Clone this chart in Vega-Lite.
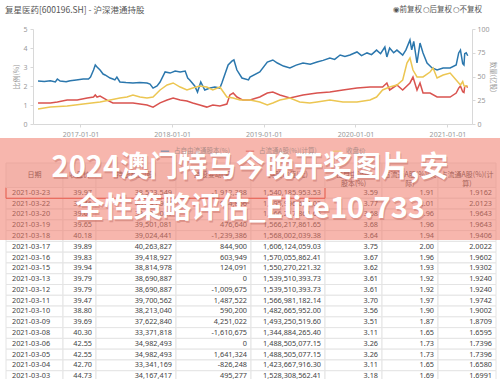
{
"$schema": "https://vega.github.io/schema/vega-lite/v6.json",
"width": 500, "height": 379, "autosize": "none", "padding": 0,
"background": "white",
"config": {"view": {"stroke": null}, "font": "Noto Sans CJK SC",
  "axis": {"grid": false, "labelColor": "#999", "labelFontSize": 7, "domainColor": "#d8d8d8", "tickColor": "#d8d8d8", "tickSize": 3, "titleColor": "#999", "titleFontSize": 7, "titleFontWeight": "normal", "labelFont": "Noto Sans", "titleFont": "Noto Sans CJK SC"}},
"datasets": {
 "lines": [
  {"d":"2016-07-16","s":"占自由流通股本(%)","v":2.26},{"d":"2016-08-10","s":"占自由流通股本(%)","v":2.24},{"d":"2016-09-03","s":"占自由流通股本(%)","v":2.28},{"d":"2016-09-23","s":"占自由流通股本(%)","v":2.21},{"d":"2016-10-01","s":"占自由流通股本(%)","v":2.37},{"d":"2016-10-12","s":"占自由流通股本(%)","v":2.26},{"d":"2016-11-05","s":"占自由流通股本(%)","v":2.22},{"d":"2016-11-21","s":"占自由流通股本(%)","v":2.28},{"d":"2016-12-15","s":"占自由流通股本(%)","v":2.32},{"d":"2017-01-12","s":"占自由流通股本(%)","v":2.37},{"d":"2017-02-02","s":"占自由流通股本(%)","v":2.37},{"d":"2017-02-10","s":"占自由流通股本(%)","v":2.47},{"d":"2017-02-22","s":"占自由流通股本(%)","v":2.84},{"d":"2017-03-01","s":"占自由流通股本(%)","v":3.11},{"d":"2017-03-08","s":"占自由流通股本(%)","v":3.0},{"d":"2017-03-20","s":"占自由流通股本(%)","v":2.84},{"d":"2017-04-01","s":"占自由流通股本(%)","v":2.63},{"d":"2017-04-09","s":"占自由流通股本(%)","v":2.58},{"d":"2017-04-29","s":"占自由流通股本(%)","v":2.42},{"d":"2017-05-10","s":"占自由流通股本(%)","v":2.37},{"d":"2017-05-18","s":"占自由流通股本(%)","v":2.32},{"d":"2017-05-26","s":"占自由流通股本(%)","v":2.47},{"d":"2017-06-07","s":"占自由流通股本(%)","v":2.21},{"d":"2017-07-01","s":"占自由流通股本(%)","v":2.18},{"d":"2017-07-29","s":"占自由流通股本(%)","v":2.16},{"d":"2017-08-25","s":"占自由流通股本(%)","v":2.18},{"d":"2017-09-23","s":"占自由流通股本(%)","v":2.16},{"d":"2017-10-05","s":"占自由流通股本(%)","v":2.1},{"d":"2017-10-17","s":"占自由流通股本(%)","v":1.89},{"d":"2017-11-02","s":"占自由流通股本(%)","v":2.0},{"d":"2017-11-14","s":"占自由流通股本(%)","v":2.21},{"d":"2017-12-04","s":"占自由流通股本(%)","v":2.74},{"d":"2017-12-24","s":"占自由流通股本(%)","v":2.68},{"d":"2018-01-13","s":"占自由流通股本(%)","v":2.79},{"d":"2018-02-02","s":"占自由流通股本(%)","v":2.74},{"d":"2018-02-22","s":"占自由流通股本(%)","v":2.79},{"d":"2018-03-04","s":"占自由流通股本(%)","v":2.42},{"d":"2018-03-12","s":"占自由流通股本(%)","v":2.32},{"d":"2018-04-01","s":"占自由流通股本(%)","v":2.0},{"d":"2018-04-12","s":"占自由流通股本(%)","v":1.68},{"d":"2018-04-25","s":"占自由流通股本(%)","v":2.21},{"d":"2018-05-11","s":"占自由流通股本(%)","v":1.79},{"d":"2018-06-01","s":"占自由流通股本(%)","v":1.89},{"d":"2018-06-20","s":"占自由流通股本(%)","v":1.95},{"d":"2018-07-10","s":"占自由流通股本(%)","v":1.89},{"d":"2018-07-18","s":"占自由流通股本(%)","v":2.16},{"d":"2018-08-12","s":"占自由流通股本(%)","v":3.11},{"d":"2018-08-28","s":"占自由流通股本(%)","v":3.32},{"d":"2018-09-04","s":"占自由流通股本(%)","v":3.37},{"d":"2018-09-16","s":"占自由流通股本(%)","v":2.84},{"d":"2018-10-06","s":"占自由流通股本(%)","v":2.42},{"d":"2018-11-01","s":"占自由流通股本(%)","v":2.32},{"d":"2018-11-07","s":"占自由流通股本(%)","v":2.47},{"d":"2018-12-16","s":"占自由流通股本(%)","v":2.74},{"d":"2019-01-15","s":"占自由流通股本(%)","v":3.26},{"d":"2019-02-06","s":"占自由流通股本(%)","v":3.37},{"d":"2019-02-24","s":"占自由流通股本(%)","v":3.21},{"d":"2019-03-20","s":"占自由流通股本(%)","v":3.05},{"d":"2019-04-15","s":"占自由流通股本(%)","v":2.95},{"d":"2019-05-10","s":"占自由流通股本(%)","v":3.1},{"d":"2019-06-06","s":"占自由流通股本(%)","v":3.21},{"d":"2019-07-05","s":"占自由流通股本(%)","v":3.15},{"d":"2019-08-01","s":"占自由流通股本(%)","v":3.26},{"d":"2019-08-25","s":"占自由流通股本(%)","v":3.35},{"d":"2019-09-21","s":"占自由流通股本(%)","v":3.47},{"d":"2019-10-10","s":"占自由流通股本(%)","v":3.4},{"d":"2019-11-01","s":"占自由流通股本(%)","v":3.63},{"d":"2019-11-20","s":"占自由流通股本(%)","v":3.55},{"d":"2019-12-10","s":"占自由流通股本(%)","v":3.63},{"d":"2020-01-07","s":"占自由流通股本(%)","v":3.79},{"d":"2020-01-25","s":"占自由流通股本(%)","v":3.6},{"d":"2020-02-16","s":"占自由流通股本(%)","v":3.74},{"d":"2020-03-05","s":"占自由流通股本(%)","v":3.65},{"d":"2020-03-25","s":"占自由流通股本(%)","v":3.89},{"d":"2020-04-10","s":"占自由流通股本(%)","v":3.7},{"d":"2020-04-27","s":"占自由流通股本(%)","v":4.05},{"d":"2020-05-05","s":"占自由流通股本(%)","v":3.53},{"d":"2020-05-16","s":"占自由流通股本(%)","v":4.0},{"d":"2020-06-01","s":"占自由流通股本(%)","v":3.75},{"d":"2020-06-14","s":"占自由流通股本(%)","v":3.89},{"d":"2020-07-07","s":"占自由流通股本(%)","v":3.63},{"d":"2020-07-20","s":"占自由流通股本(%)","v":3.9},{"d":"2020-08-05","s":"占自由流通股本(%)","v":4.42},{"d":"2020-08-12","s":"占自由流通股本(%)","v":3.9},{"d":"2020-08-20","s":"占自由流通股本(%)","v":4.35},{"d":"2020-09-02","s":"占自由流通股本(%)","v":3.21},{"d":"2020-09-14","s":"占自由流通股本(%)","v":4.26},{"d":"2020-09-26","s":"占自由流通股本(%)","v":3.74},{"d":"2020-10-12","s":"占自由流通股本(%)","v":3.21},{"d":"2020-11-01","s":"占自由流通股本(%)","v":2.95},{"d":"2020-11-21","s":"占自由流通股本(%)","v":2.84},{"d":"2020-12-15","s":"占自由流通股本(%)","v":2.95},{"d":"2021-01-12","s":"占自由流通股本(%)","v":2.95},{"d":"2021-02-05","s":"占自由流通股本(%)","v":3.11},{"d":"2021-02-15","s":"占自由流通股本(%)","v":3.74},{"d":"2021-02-22","s":"占自由流通股本(%)","v":3.89},{"d":"2021-03-03","s":"占自由流通股本(%)","v":3.18},{"d":"2021-03-08","s":"占自由流通股本(%)","v":3.11},{"d":"2021-03-11","s":"占自由流通股本(%)","v":3.70},{"d":"2021-03-17","s":"占自由流通股本(%)","v":3.75},{"d":"2021-03-23","s":"占自由流通股本(%)","v":3.59},
  {"d":"2016-07-16","s":"占流通A股(%)(计算)","v":1.11},{"d":"2016-09-03","s":"占流通A股(%)(计算)","v":1.11},{"d":"2016-10-01","s":"占流通A股(%)(计算)","v":1.16},{"d":"2016-11-09","s":"占流通A股(%)(计算)","v":1.26},{"d":"2016-12-19","s":"占流通A股(%)(计算)","v":1.26},{"d":"2017-01-28","s":"占流通A股(%)(计算)","v":1.37},{"d":"2017-02-22","s":"占流通A股(%)(计算)","v":1.42},{"d":"2017-03-01","s":"占流通A股(%)(计算)","v":1.53},{"d":"2017-03-08","s":"占流通A股(%)(计算)","v":1.42},{"d":"2017-03-20","s":"占流通A股(%)(计算)","v":1.47},{"d":"2017-04-17","s":"占流通A股(%)(计算)","v":1.26},{"d":"2017-05-10","s":"占流通A股(%)(计算)","v":1.11},{"d":"2017-07-29","s":"占流通A股(%)(计算)","v":1.11},{"d":"2017-09-23","s":"占流通A股(%)(计算)","v":1.0},{"d":"2017-10-17","s":"占流通A股(%)(计算)","v":0.89},{"d":"2017-11-14","s":"占流通A股(%)(计算)","v":1.11},{"d":"2017-12-12","s":"占流通A股(%)(计算)","v":1.26},{"d":"2018-01-05","s":"占流通A股(%)(计算)","v":1.37},{"d":"2018-02-02","s":"占流通A股(%)(计算)","v":1.26},{"d":"2018-03-01","s":"占流通A股(%)(计算)","v":1.21},{"d":"2018-03-24","s":"占流通A股(%)(计算)","v":1.11},{"d":"2018-04-21","s":"占流通A股(%)(计算)","v":1.0},{"d":"2018-05-19","s":"占流通A股(%)(计算)","v":0.89},{"d":"2018-06-12","s":"占流通A股(%)(计算)","v":1.0},{"d":"2018-07-10","s":"占流通A股(%)(计算)","v":0.95},{"d":"2018-08-07","s":"占流通A股(%)(计算)","v":1.05},{"d":"2018-08-19","s":"占流通A股(%)(计算)","v":1.53},{"d":"2018-09-01","s":"占流通A股(%)(计算)","v":1.63},{"d":"2018-09-16","s":"占流通A股(%)(计算)","v":1.42},{"d":"2018-10-10","s":"占流通A股(%)(计算)","v":1.26},{"d":"2018-11-07","s":"占流通A股(%)(计算)","v":1.26},{"d":"2018-12-16","s":"占流通A股(%)(计算)","v":1.42},{"d":"2019-01-15","s":"占流通A股(%)(计算)","v":1.63},{"d":"2019-02-06","s":"占流通A股(%)(计算)","v":1.68},{"d":"2019-03-06","s":"占流通A股(%)(计算)","v":1.53},{"d":"2019-04-15","s":"占流通A股(%)(计算)","v":1.37},{"d":"2019-06-06","s":"占流通A股(%)(计算)","v":1.53},{"d":"2019-08-01","s":"占流通A股(%)(计算)","v":1.63},{"d":"2019-09-21","s":"占流通A股(%)(计算)","v":1.68},{"d":"2019-11-12","s":"占流通A股(%)(计算)","v":1.79},{"d":"2020-01-07","s":"占流通A股(%)(计算)","v":1.89},{"d":"2020-02-28","s":"占流通A股(%)(计算)","v":1.95},{"d":"2020-04-18","s":"占流通A股(%)(计算)","v":1.95},{"d":"2020-05-05","s":"占流通A股(%)(计算)","v":2.16},{"d":"2020-05-16","s":"占流通A股(%)(计算)","v":1.79},{"d":"2020-06-14","s":"占流通A股(%)(计算)","v":2.05},{"d":"2020-07-07","s":"占流通A股(%)(计算)","v":1.79},{"d":"2020-08-05","s":"占流通A股(%)(计算)","v":2.16},{"d":"2020-08-17","s":"占流通A股(%)(计算)","v":2.47},{"d":"2020-09-02","s":"占流通A股(%)(计算)","v":1.79},{"d":"2020-09-14","s":"占流通A股(%)(计算)","v":2.16},{"d":"2020-09-26","s":"占流通A股(%)(计算)","v":1.63},{"d":"2020-10-24","s":"占流通A股(%)(计算)","v":1.63},{"d":"2020-11-21","s":"占流通A股(%)(计算)","v":1.42},{"d":"2021-01-12","s":"占流通A股(%)(计算)","v":1.42},{"d":"2021-02-05","s":"占流通A股(%)(计算)","v":1.63},{"d":"2021-02-15","s":"占流通A股(%)(计算)","v":1.89},{"d":"2021-02-22","s":"占流通A股(%)(计算)","v":2.0},{"d":"2021-03-03","s":"占流通A股(%)(计算)","v":1.70},{"d":"2021-03-08","s":"占流通A股(%)(计算)","v":1.66},{"d":"2021-03-11","s":"占流通A股(%)(计算)","v":1.97},{"d":"2021-03-17","s":"占流通A股(%)(计算)","v":2.00},{"d":"2021-03-23","s":"占流通A股(%)(计算)","v":1.92},
  {"d":"2016-07-16","s":"收盘价","v":15.8},{"d":"2016-09-03","s":"收盘价","v":17.9},{"d":"2016-11-09","s":"收盘价","v":18.9},{"d":"2017-01-12","s":"收盘价","v":21.1},{"d":"2017-03-20","s":"收盘价","v":23.2},{"d":"2017-04-29","s":"收盘价","v":25.3},{"d":"2017-06-07","s":"收盘价","v":27.4},{"d":"2017-07-05","s":"收盘价","v":28.4},{"d":"2017-07-29","s":"收盘价","v":30.5},{"d":"2017-08-26","s":"收盘价","v":28.4},{"d":"2017-09-23","s":"收盘价","v":27.4},{"d":"2017-10-17","s":"收盘价","v":28.4},{"d":"2017-11-14","s":"收盘价","v":35.8},{"d":"2017-12-12","s":"收盘价","v":41.1},{"d":"2018-01-05","s":"收盘价","v":43.2},{"d":"2018-02-02","s":"收盘价","v":38.9},{"d":"2018-03-01","s":"收盘价","v":35.8},{"d":"2018-03-24","s":"收盘价","v":37.9},{"d":"2018-04-21","s":"收盘价","v":40.0},{"d":"2018-05-19","s":"收盘价","v":38.9},{"d":"2018-06-12","s":"收盘价","v":35.8},{"d":"2018-07-10","s":"收盘价","v":38.9},{"d":"2018-08-07","s":"收盘价","v":28.4},{"d":"2018-09-01","s":"收盘价","v":27.4},{"d":"2018-09-28","s":"收盘价","v":25.3},{"d":"2018-11-07","s":"收盘价","v":25.3},{"d":"2018-12-16","s":"收盘价","v":23.2},{"d":"2019-01-15","s":"收盘价","v":20.0},{"d":"2019-02-06","s":"收盘价","v":22.1},{"d":"2019-03-06","s":"收盘价","v":25.3},{"d":"2019-04-15","s":"收盘价","v":27.4},{"d":"2019-05-24","s":"收盘价","v":23.2},{"d":"2019-07-03","s":"收盘价","v":22.1},{"d":"2019-08-01","s":"收盘价","v":23.2},{"d":"2019-09-21","s":"收盘价","v":25.3},{"d":"2019-11-12","s":"收盘价","v":23.2},{"d":"2020-01-07","s":"收盘价","v":23.2},{"d":"2020-02-28","s":"收盘价","v":25.3},{"d":"2020-03-25","s":"收盘价","v":28.4},{"d":"2020-04-18","s":"收盘价","v":35.8},{"d":"2020-05-16","s":"收盘价","v":38.9},{"d":"2020-06-14","s":"收盘价","v":41.1},{"d":"2020-07-07","s":"收盘价","v":46.3},{"d":"2020-07-24","s":"收盘价","v":64.2},{"d":"2020-08-05","s":"收盘价","v":69.5},{"d":"2020-08-17","s":"收盘价","v":56.8},{"d":"2020-09-02","s":"收盘价","v":49.5},{"d":"2020-09-26","s":"收盘价","v":49.5},{"d":"2020-10-24","s":"收盘价","v":54.7},{"d":"2020-11-05","s":"收盘价","v":58.9},{"d":"2020-11-21","s":"收盘价","v":48.4},{"d":"2020-12-15","s":"收盘价","v":51.6},{"d":"2021-01-12","s":"收盘价","v":53.7},{"d":"2021-02-05","s":"收盘价","v":46.3},{"d":"2021-02-22","s":"收盘价","v":41.1},{"d":"2021-03-03","s":"收盘价","v":44.73},{"d":"2021-03-08","s":"收盘价","v":40.30},{"d":"2021-03-11","s":"收盘价","v":39.47},{"d":"2021-03-17","s":"收盘价","v":39.89},{"d":"2021-03-23","s":"收盘价","v":39.97}
 ],
 "table": [
  {"d":"2021-03-23","p":"39.97","n":"38,533,549","c":"-1,912,388","v":"1,540,185,953.53","f":"3.59","a":"1.91","ac":"1.9162"},
  {"d":"2021-03-22","p":"39.46","n":"40,445,937","c":"944,856","v":"1,595,996,674.02","f":"3.77","a":"2.01","ac":"2.0123"},
  {"d":"2021-03-20","p":"39.65","n":"39,501,081","c":"0","v":"1,566,217,861.65","f":"3.68","a":"1.96","ac":"1.9643"},
  {"d":"2021-03-19","p":"39.65","n":"39,501,081","c":"476,640","v":"1,566,217,861.65","f":"3.68","a":"1.96","ac":"1.9643"},
  {"d":"2021-03-18","p":"40.18","n":"39,024,441","c":"-1,239,386","v":"1,568,002,039.38","f":"3.64","a":"1.94","ac":"1.9406"},
  {"d":"2021-03-17","p":"39.89","n":"40,263,827","c":"844,900","v":"1,606,124,059.03","f":"3.75","a":"2.00","ac":"2.0022"},
  {"d":"2021-03-16","p":"39.83","n":"39,418,927","c":"603,949","v":"1,570,055,862.41","f":"3.67","a":"1.96","ac":"1.9602"},
  {"d":"2021-03-15","p":"39.94","n":"38,814,978","c":"124,091","v":"1,550,270,221.32","f":"3.62","a":"1.93","ac":"1.9302"},
  {"d":"2021-03-13","p":"39.79","n":"38,690,887","c":"0","v":"1,539,510,393.73","f":"3.61","a":"1.92","ac":"1.9240"},
  {"d":"2021-03-12","p":"39.79","n":"38,690,887","c":"-1,009,675","v":"1,539,510,393.73","f":"3.61","a":"1.92","ac":"1.9240"},
  {"d":"2021-03-11","p":"39.47","n":"39,700,562","c":"1,487,522","v":"1,566,981,182.14","f":"3.70","a":"1.97","ac":"1.9742"},
  {"d":"2021-03-10","p":"38.80","n":"38,213,040","c":"590,200","v":"1,482,665,952.00","f":"3.56","a":"1.90","ac":"1.9002"},
  {"d":"2021-03-09","p":"39.69","n":"37,622,840","c":"4,251,022","v":"1,493,250,519.60","f":"3.51","a":"1.87","ac":"1.8709"},
  {"d":"2021-03-08","p":"40.30","n":"33,371,818","c":"-1,610,675","v":"1,344,884,265.40","f":"3.11","a":"1.65","ac":"1.6595"},
  {"d":"2021-03-06","p":"42.55","n":"34,982,493","c":"0","v":"1,488,505,077.15","f":"3.26","a":"1.73","ac":"1.7396"},
  {"d":"2021-03-05","p":"42.55","n":"34,982,493","c":"1,641,324","v":"1,488,505,077.15","f":"3.26","a":"1.73","ac":"1.7396"},
  {"d":"2021-03-04","p":"42.70","n":"33,341,169","c":"-826,248","v":"1,423,667,916.30","f":"3.11","a":"1.65","ac":"1.6580"},
  {"d":"2021-03-03","p":"44.73","n":"34,167,417","c":"495,277","v":"1,528,308,562.41","f":"3.18","a":"1.69","ac":"1.6991"}
 ],
 "cols": [
  {"k":"d","h":"日期","lo":0,"hi":1,"r":"表头"},
  {"k":"p","h":"收盘价","lo":1,"hi":2,"r":"表头"},
  {"k":"n","h":"持股数量(股)","lo":2,"hi":3,"r":"表头"},
  {"k":"c","h":"持股变动(股)","lo":3,"hi":4,"r":"表头"},
  {"k":"v","h":"持股市值(元)","lo":4,"hi":5,"r":"表头"},
  {"k":"f","h":"占自由流通\n股本(%)","lo":5,"hi":6,"r":"表头"},
  {"k":"a","h":"占流通A股(%)(实\n际)","lo":6,"hi":7,"r":"表头"},
  {"k":"ac","h":"占流通A股(%)(计\n算)","lo":7,"hi":8,"r":"表头"}
 ]
},
"layer": [
 {
  "data": {"name": "lines"},
  "layer": [
   {"transform": [{"filter": "datum.s != '收盘价'"}],
    "mark": {"type": "line", "strokeWidth": 1.5},
    "encoding": {
     "x": {"field": "d", "type": "temporal",
       "scale": {"domain": [{"year":2016,"month":6,"date":26},{"year":2021,"month":4,"date":9}], "range": [33, 472]},
       "axis": {"orient": "bottom", "offset": -255, "title": null, "format": "%Y-%m-%d", "labelPadding": 3,
         "values": [{"year":2017,"month":1,"date":1},{"year":2018,"month":1,"date":1},{"year":2019,"month":1,"date":1},{"year":2020,"month":1,"date":1},{"year":2021,"month":1,"date":1}]}},
     "y": {"field": "v", "type": "quantitative",
       "scale": {"domain": [0, 5], "range": [124, 29], "nice": false},
       "axis": {"orient": "left", "offset": -33, "title": "比例(%)", "values": [0,1,2,3,4,5], "labelPadding": 3, "titlePadding": 3}},
     "color": {"field": "s", "type": "nominal",
       "scale": {"domain": ["占自由流通股本(%)", "占流通A股(%)(计算)", "收盘价"], "range": ["#2b77ad", "#d9534f", "#ecc652"]},
       "legend": {"orient": "none", "legendX": 160, "legendY": 146, "direction": "horizontal", "title": null,
         "symbolType": "stroke", "symbolStrokeWidth": 1.5, "symbolSize": 70, "symbolOpacity": 0.5,
         "labelFontSize": 6.5, "labelColor": "#b08d88", "columnPadding": 12, "labelFont": "Noto Sans CJK SC"}}
    }},
   {"transform": [{"filter": "datum.s == '收盘价'"}],
    "mark": {"type": "line", "strokeWidth": 1.5},
    "encoding": {
     "x": {"field": "d", "type": "temporal"},
     "y": {"field": "v", "type": "quantitative",
       "scale": {"domain": [0, 100], "range": [124, 29], "nice": false},
       "axis": {"orient": "right", "offset": -28, "title": "数量(亿股)", "values": [0,25,50,75,100], "labelPadding": 2, "titlePadding": 0, "titleFontSize": 6.5}},
     "color": {"field": "s", "type": "nominal"}
    }}
  ],
  "resolve": {"scale": {"y": "independent"}}
 },
 {
  "data": {"name": "table"},
  "transform": [
   {"fold": ["d", "p", "n", "c", "v", "f", "a", "ac"], "as": ["k", "val"]},
   {"lookup": "k", "from": {"data": {"name": "cols"}, "key": "k", "fields": ["lo", "hi"]}}
  ],
  "encoding": {
   "y": {"field": "d", "type": "nominal", "sort": null, "axis": null,
     "scale": {"type": "band", "range": [187.5, 381.5], "paddingInner": 0, "paddingOuter": 0}}
  },
  "layer": [
   {"mark": {"type": "rect", "fill": "white", "stroke": "#e4e4e4", "strokeWidth": 1},
    "encoding": {
     "x": {"field": "lo", "type": "quantitative", "axis": null,
       "scale": {"domain": [0,1,2,3,4,5,6,7,8], "range": [6, 63, 96, 176, 251, 325, 382, 438, 496], "zero": false, "nice": false}},
     "x2": {"field": "hi"}}},
   {"transform": [{"filter": "datum.k == 'd'"}],
    "mark": {"type": "text", "align": "left", "dx": 6, "fontSize": 7.3, "color": "#444", "font": "Noto Sans"},
    "encoding": {"x": {"field": "lo", "type": "quantitative"}, "text": {"field": "val"}}},
   {"transform": [{"filter": "datum.k != 'd'"}],
    "mark": {"type": "text", "align": "right", "dx": -4, "fontSize": 7.3, "color": "#444", "font": "Noto Sans"},
    "encoding": {"x": {"field": "hi", "type": "quantitative"}, "text": {"field": "val"}}},
   {"transform": [{"filter": "datum.k == 'd' && datum.d == '2021-03-23'"}],
    "mark": {"type": "rect", "fill": null, "fillOpacity": 0, "stroke": "#e0392b", "strokeWidth": 1},
    "encoding": {"x": {"field": "lo", "type": "quantitative"}, "x2": {"datum": 5}}}
  ]
 },
 {
  "data": {"name": "cols"},
  "mark": {"type": "rect", "fill": "#f6f6f6", "stroke": "#e4e4e4", "strokeWidth": 1},
  "encoding": {
   "y": {"field": "r", "type": "nominal", "axis": null,
     "scale": {"type": "band", "range": [163, 187.5], "paddingInner": 0, "paddingOuter": 0}},
   "x": {"field": "lo", "type": "quantitative", "axis": null,
     "scale": {"domain": [0,1,2,3,4,5,6,7,8], "range": [6, 63, 96, 176, 251, 325, 382, 438, 496], "zero": false, "nice": false}},
   "x2": {"field": "hi"}
  }
 },
 {
  "data": {"name": "cols"},
  "mark": {"type": "text", "align": "center", "fontSize": 7, "color": "#444", "lineBreak": "\n", "lineHeight": 9},
  "encoding": {
   "y": {"field": "r", "type": "nominal", "axis": null,
     "scale": {"type": "band", "range": [163, 187.5], "paddingInner": 0, "paddingOuter": 0}},
   "x": {"field": "lo", "type": "quantitative", "axis": null,
     "scale": {"domain": [0,1,2,3,4,5,6,7], "range": [34.5, 79.5, 136, 213.5, 288, 353.5, 410, 467], "zero": false, "nice": false}},
   "text": {"field": "h"}
  }
 },
 {
  "data": {"values": [{"t": "复星医药[600196.SH] - 沪深港通持股"}]},
  "mark": {"type": "text", "align": "left", "fontSize": 8.5, "color": "#555"},
  "encoding": {
   "x": {"field": "t", "type": "nominal", "axis": null, "scale": {"type": "point", "range": [5, 5], "padding": 0}},
   "y": {"field": "t", "type": "nominal", "axis": null, "scale": {"type": "point", "range": [10, 10], "padding": 0}},
   "text": {"field": "t"}
  }
 },
 {
  "data": {"values": [{"o": "◉前复权"}, {"o": "○后复权"}, {"o": "○不复权"}]},
  "mark": {"type": "text", "align": "left", "fontSize": 7.5, "color": "#555", "font": "DejaVu Sans, Noto Sans CJK SC"},
  "encoding": {
   "x": {"field": "o", "type": "nominal", "sort": null, "axis": null, "scale": {"type": "point", "range": [393, 453], "padding": 0}},
   "y": {"field": "o", "type": "nominal", "axis": null, "scale": {"type": "point", "range": [10, 10], "padding": 0}},
   "text": {"field": "o"}
  }
 },
 {
  "data": {"values": [{"b": "overlay"}]},
  "mark": {"type": "rect", "fill": "#f07a6a", "opacity": 0.55},
  "encoding": {
   "y": {"field": "b", "type": "nominal", "axis": null, "scale": {"type": "band", "range": [138, 240], "paddingInner": 0, "paddingOuter": 0}}
  }
 },
 {
  "data": {"values": [{"t": "2024澳门特马今晚开奖图片,安"}, {"t": "全性策略评估_Elite10.733"}]},
  "encoding": {
   "y": {"field": "t", "type": "nominal", "sort": null, "axis": null, "scale": {"type": "point", "range": [168, 209], "padding": 0}},
   "text": {"field": "t"}
  },
  "layer": [
   {"mark": {"type": "text", "align": "center", "fontSize": 29, "fontWeight": "bold", "color": "#b4574c", "opacity": 0.35, "dx": 1, "dy": 1.5}},
   {"mark": {"type": "text", "align": "center", "fontSize": 29, "fontWeight": "bold", "color": "white"}}
  ]
 }
],
"resolve": {"scale": {"x": "independent", "y": "independent"}}
}
